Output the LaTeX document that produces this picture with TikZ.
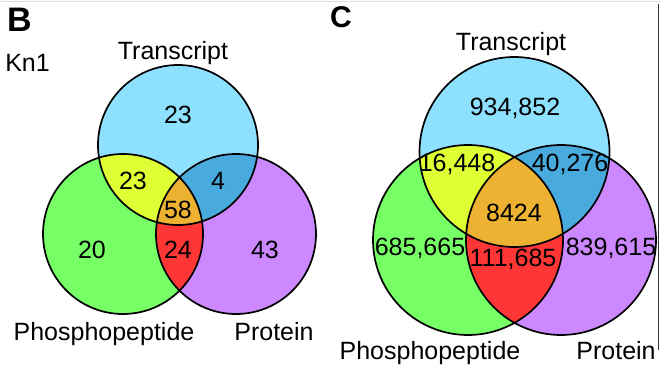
\documentclass[tikz,border=0pt]{standalone}
\usepackage{fontspec}
\setmainfont{Liberation Sans}
\usetikzlibrary{positioning}
\definecolor{transcriptblue}{HTML}{8EE0FF}
\definecolor{phosphogreen}{HTML}{77FF66}
\definecolor{proteinpurple}{HTML}{CC88FF}
\definecolor{tphyellow}{HTML}{DDFF33}
\definecolor{tprblue}{HTML}{48AADD}
\definecolor{phprred}{HTML}{FF3636}
\definecolor{allorange}{HTML}{EEB233}
\tikzset{set label/.style={font=\fontsize{25}{30}\selectfont,inner sep=0pt,anchor=base}}
\tikzset{count label/.style={font=\fontsize{25}{30}\selectfont,inner sep=0pt,text depth=0pt}}
\tikzset{panel label/.style={font=\bfseries,inner sep=0pt,anchor=base west}}
\tikzset{venn edge/.style={draw=black,line width=1.7pt}}

\begin{document}
\begin{tikzpicture}[x=1pt,y=-1pt]
        \useasboundingbox (0,0) rectangle (661,366);
        \draw[gray!25, line width=1pt] (0,2) -- (661,2);
        \draw[black!80, line width=1.5pt] (658.5,4) -- (658.5,350);

        % panel B
        \coordinate (tb) at (178,145);
        \coordinate (gb) at (123,234);
        \coordinate (rb) at (236,234);
        \fill[transcriptblue] (tb) circle[radius=80pt];
        \fill[phosphogreen] (gb) circle[radius=80pt];
        \fill[proteinpurple] (rb) circle[radius=80pt];
        \begin{scope}
            \clip (tb) circle[radius=80pt];
            \fill[tphyellow] (gb) circle[radius=80pt];
            \fill[tprblue] (rb) circle[radius=80pt];
        \end{scope}
        \begin{scope}
            \clip (gb) circle[radius=80pt];
            \fill[phprred] (rb) circle[radius=80pt];
            \clip (rb) circle[radius=80pt];
            \fill[allorange] (tb) circle[radius=80pt];
        \end{scope}
        \path[venn edge] (tb) circle[radius=80pt] (gb) circle[radius=80pt] (rb) circle[radius=80pt];

        \node[panel label, font=\fontsize{34}{38}\selectfont\bfseries] (B) at (7,32) {B};
        \node[set label] (kn1) at (27.5,72) {Kn1};
        \node[set label] (transcriptB) at (173,60) {Transcript};
        \node[set label] (phosphoB) at (104,340) {Phosphopeptide};
        \node[set label] (proteinB) at (274,340) {Protein};
        \node[count label] (tB) at (178,115) {23};
        \node[count label] (tphB) at (133,181) {23};
        \node[count label] (tprB) at (218,181) {4};
        \node[count label] (allB) at (178,210) {58};
        \node[count label] (phB) at (92,250) {20};
        \node[count label] (phprB) at (178,250) {24};
        \node[count label] (prB) at (265,250) {43};

        % panel C
        \coordinate (tc) at (514.5,152);
        \coordinate (gc) at (468,240);
        \coordinate (rc) at (561,240);
        \fill[transcriptblue] (tc) circle[radius=95pt];
        \fill[phosphogreen] (gc) circle[radius=95pt];
        \fill[proteinpurple] (rc) circle[radius=95pt];
        \begin{scope}
            \clip (tc) circle[radius=95pt];
            \fill[tphyellow] (gc) circle[radius=95pt];
            \fill[tprblue] (rc) circle[radius=95pt];
        \end{scope}
        \begin{scope}
            \clip (gc) circle[radius=95pt];
            \fill[phprred] (rc) circle[radius=95pt];
            \clip (rc) circle[radius=95pt];
            \fill[allorange] (tc) circle[radius=95pt];
        \end{scope}
        \path[venn edge] (tc) circle[radius=95pt] (gc) circle[radius=95pt] (rc) circle[radius=95pt];

        \node[panel label, font=\fontsize{30}{34}\selectfont\bfseries] (C) at (330,28) {C};
        \node[set label] (transcriptC) at (511,51) {Transcript};
        \node[set label] (phosphoC) at (430,359) {Phosphopeptide};
        \node[set label] (proteinC) at (616,359) {Protein};
        \node[count label] (tC) at (515,107) {934,852};
        \node[count label] (tphC) at (457,163) {16,448};
        \node[count label] (tprC) at (570,163) {40,276};
        \node[count label] (allC) at (514,213) {8424};
        \node[count label] (phC) at (420,247) {685,665};
        \node[count label] (phprC) at (513,258) {111,685};
        \node[count label] (prC) at (611,247) {839,615};
    \end{tikzpicture}
\end{document}
